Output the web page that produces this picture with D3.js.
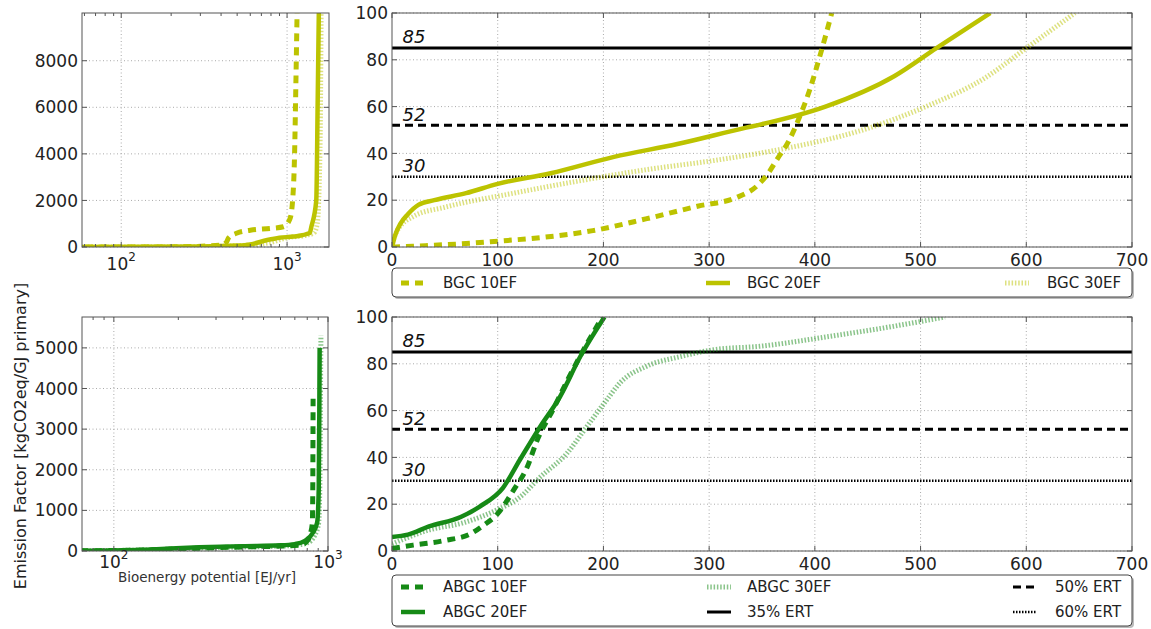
<!DOCTYPE html>
<html>
<head>
<meta charset="utf-8">
<script src="https://cdn.jsdelivr.net/npm/d3@7"></script>
<style>
  body { margin: 0; background: #fff; }
  svg text { font-family: "DejaVu Sans", sans-serif; }
</style>
</head>
<body>
<div id="canvas"></div>
<script>
"use strict"

/* Data */
// zoomed panels (linear), x = bioenergy potential [EJ/yr], y = emission factor
let bgc10X = [0, 20, 40, 60, 100, 140, 190, 240, 290, 325, 345, 355, 365, 375, 385, 395, 405, 416];
let bgc10Y = [0, 0.3, 0.8, 1.2, 2.5, 4, 7, 12, 17.5, 21, 26, 31, 38, 45, 55, 67, 82, 100];
let bgc20X = [0, 3, 8, 15, 25, 40, 70, 100, 150, 210, 270, 335, 350, 410, 475, 515, 566];
let bgc20Y = [0, 5, 10, 14, 18, 20, 23, 27, 31.5, 38.5, 44, 51, 52.5, 60, 73, 85, 100];
let bgc30X = [0, 5, 20, 50, 115, 180, 240, 305, 365, 445, 505, 560, 600, 646];
let bgc30Y = [2, 7, 13, 17, 23, 28.5, 33, 37, 41.5, 50, 60, 72, 85, 100];

let abgc10X = [0, 20, 50, 75, 85, 100, 115, 128, 137, 153, 166, 180, 199];
let abgc10Y = [1, 2.5, 4.5, 7.5, 10.5, 16, 26, 36, 47, 61, 73, 85, 100];
let abgc20X = [0, 15, 35, 65, 83, 105, 121, 140, 159, 178, 201];
let abgc20Y = [6, 7, 10.5, 14.5, 19, 27, 39, 53, 66, 83, 100];
let abgc30X = [0, 35, 67, 99, 121, 140, 166, 184, 203, 216, 241, 272, 304, 348, 411, 474, 523];
let abgc30Y = [3, 9, 12, 17.5, 23, 31.5, 42, 53, 64.5, 72, 79, 83, 86, 87.5, 91.5, 96, 100];

// full curves (log x)
let bgcLog10X = [50, 200, 400, 430, 445, 500, 600, 800, 950, 1040, 1080, 1110, 1130, 1150];
let bgcLog10Y = [0, 5, 80, 200, 400, 600, 720, 800, 870, 1200, 2000, 4000, 7000, 10200];
let bgcLog20X = [50, 300, 500, 600, 760, 900, 1100, 1370, 1400, 1500, 1530, 1555];
let bgcLog20Y = [0, 20, 60, 110, 300, 400, 450, 600, 860, 2000, 6300, 10200];
let bgcLog30X = [50, 300, 500, 650, 800, 1000, 1300, 1450, 1520, 1560, 1590, 1605];
let bgcLog30Y = [0, 15, 60, 100, 200, 400, 500, 600, 1000, 2500, 6000, 10200];

let abgcLog10X = [60, 150, 250, 400, 600, 750, 800, 830, 845, 849, 851, 852];
let abgcLog10Y = [2, 30, 70, 100, 120, 150, 250, 450, 700, 1500, 3000, 3750];
let abgcLog20X = [60, 150, 250, 400, 600, 700, 780, 850, 890, 905, 911, 914];
let abgcLog20Y = [5, 40, 90, 120, 140, 170, 250, 450, 700, 1500, 3500, 5000];
let abgcLog30X = [60, 150, 250, 400, 600, 700, 800, 870, 905, 918, 924, 927];
let abgcLog30Y = [3, 30, 70, 100, 120, 140, 200, 400, 700, 2000, 4500, 5300];

// emission reduction thresholds
let ertLevels = [85, 52, 30];
let ertNames = ["35% ERT", "50% ERT", "60% ERT"];

let linTicksX = [0, 100, 200, 300, 400, 500, 600, 700];
let linTicksY = [0, 20, 40, 60, 80, 100];
let logTicksTop = [0, 2000, 4000, 6000, 8000];
let logTicksBottom = [0, 1000, 2000, 3000, 4000, 5000];

/* Configuration: drawing */
let svgWidth = 1151;
let svgHeight = 629;
let yellow = "#bcc300";
let green = "#168a16";
let frameColor = "#555";

let svg = d3.select("#canvas")
    .append("svg")
    .attr("width", svgWidth)
    .attr("height", svgHeight);

let defs = svg.append("defs");

let styles = {
    "10EF": { dash: "8,6", width: 5, opacity: 1 },
    "20EF": { dash: null, width: 4.5, opacity: 1 },
    "30EF": { dash: "1.5,1.8", width: 5, opacity: 0.5 }
};

let ertStyles = [
    { dash: null, width: 3 },
    { dash: "8,5", width: 3 },
    { dash: "1.5,1.5", width: 2.5 }
];

function zip(xs, ys) {
    return xs.map(function (x, i) { return [x, ys[i]]; });
}

let clipCount = 0;

/* Draw one panel: frame, grid, ticks, labels and the lines inside it */
function panel(opts) {
    let x = opts.x, y = opts.y;
    let x0 = x.range()[0], x1 = x.range()[1];
    let y0 = y.range()[0], y1 = y.range()[1];
    let g = svg.append("g");

    let id = "clip" + (clipCount++);
    defs.append("clipPath").attr("id", id)
        .append("rect")
        .attr("x", x0).attr("y", y1)
        .attr("width", x1 - x0).attr("height", y0 - y1);

    // grid
    g.selectAll(".gx").data(opts.gridX).join("line")
        .attr("x1", d => x(d)).attr("x2", d => x(d))
        .attr("y1", y1).attr("y2", y0)
        .attr("stroke", "#aaa").attr("stroke-width", 1)
        .attr("stroke-dasharray", "1,2.5");
    g.selectAll(".gy").data(opts.ticksY).join("line")
        .attr("x1", x0).attr("x2", x1)
        .attr("y1", d => y(d)).attr("y2", d => y(d))
        .attr("stroke", "#aaa").attr("stroke-width", 1)
        .attr("stroke-dasharray", "1,2.5");

    // series lines
    let lines = g.append("g").attr("clip-path", "url(#" + id + ")");
    let line = d3.line()
        .x(d => x(d[0])).y(d => y(d[1]))
        .curve(d3.curveMonotoneX);

    if (opts.ert) {
        ertLevels.forEach(function (lv, i) {
            lines.append("line")
                .attr("x1", x0).attr("x2", x1)
                .attr("y1", y(lv)).attr("y2", y(lv))
                .attr("stroke", "#000")
                .attr("stroke-width", ertStyles[i].width)
                .attr("stroke-dasharray", ertStyles[i].dash);
            g.append("text")
                .attr("x", x(10)).attr("y", y(lv + 2))
                .attr("font-size", 18).attr("font-style", "italic")
                .attr("fill", "#111")
                .text(lv);
        });
    }

    opts.series.forEach(function (s) {
        let st = styles[s.key];
        lines.append("path")
            .datum(zip(s.xs, s.ys))
            .attr("d", line)
            .attr("fill", "none")
            .attr("stroke", opts.color)
            .attr("stroke-width", st.width)
            .attr("stroke-opacity", st.opacity)
            .attr("stroke-dasharray", st.dash);
    });

    // inward ticks on all four sides
    let majorX = opts.ticksX;
    let tk = g.append("g").attr("stroke", frameColor).attr("stroke-width", 1);
    majorX.forEach(function (t) {
        tk.append("line").attr("x1", x(t)).attr("x2", x(t)).attr("y1", y0).attr("y2", y0 - 5);
        tk.append("line").attr("x1", x(t)).attr("x2", x(t)).attr("y1", y1).attr("y2", y1 + 5);
    });
    (opts.minorX || []).forEach(function (t) {
        tk.append("line").attr("x1", x(t)).attr("x2", x(t)).attr("y1", y0).attr("y2", y0 - 3);
        tk.append("line").attr("x1", x(t)).attr("x2", x(t)).attr("y1", y1).attr("y2", y1 + 3);
    });
    opts.ticksY.forEach(function (t) {
        tk.append("line").attr("x1", x0).attr("x2", x0 + 5).attr("y1", y(t)).attr("y2", y(t));
        tk.append("line").attr("x1", x1).attr("x2", x1 - 5).attr("y1", y(t)).attr("y2", y(t));
    });

    // frame
    g.append("rect")
        .attr("x", x0).attr("y", y1)
        .attr("width", x1 - x0).attr("height", y0 - y1)
        .attr("fill", "none").attr("stroke", frameColor).attr("stroke-width", 1);

    // tick labels
    g.selectAll(".ly").data(opts.ticksY).join("text")
        .attr("x", x0 - 4).attr("y", d => y(d))
        .attr("dy", "0.36em")
        .attr("text-anchor", "end")
        .attr("font-size", 17).attr("fill", "#222")
        .text(d => d);

    if (opts.log) {
        majorX.forEach(function (t) {
            let tx = g.append("text")
                .attr("x", x(t)).attr("y", y0 + opts.logLabelDy)
                .attr("text-anchor", "middle")
                .attr("font-size", 17).attr("fill", "#222");
            tx.append("tspan").text("10");
            tx.append("tspan").attr("dy", -9).attr("font-size", 12)
                .text(Math.round(Math.log10(t)));
        });
    } else {
        g.selectAll(".lx").data(majorX).join("text")
            .attr("x", d => x(d)).attr("y", y0 + 19)
            .attr("text-anchor", "middle")
            .attr("font-size", 17).attr("fill", "#222")
            .text(d => d);
    }
}

function minorLogTicks(domain) {
    let out = [];
    for (let p = 1; p <= 3; p++) {
        for (let m = 2; m <= 9; m++) {
            let v = m * Math.pow(10, p);
            if (v > domain[0] && v < domain[1]) out.push(v);
        }
    }
    return out;
}

/* Top row: BGC */
let tlDomain = [58, 1790];
panel({
    x: d3.scaleLog().domain(tlDomain).range([82, 329]),
    y: d3.scaleLinear().domain([0, 10050]).range([247, 13]),
    log: true, logLabelDy: 23,
    ticksX: [100, 1000], gridX: [100, 1000], minorX: minorLogTicks(tlDomain),
    ticksY: logTicksTop,
    color: yellow,
    series: [
        { key: "10EF", xs: bgcLog10X, ys: bgcLog10Y },
        { key: "30EF", xs: bgcLog30X, ys: bgcLog30Y },
        { key: "20EF", xs: bgcLog20X, ys: bgcLog20Y }
    ]
});

panel({
    x: d3.scaleLinear().domain([0, 700]).range([392, 1132]),
    y: d3.scaleLinear().domain([0, 100]).range([247, 13]),
    ticksX: linTicksX, gridX: linTicksX.slice(1, -1),
    ticksY: linTicksY,
    ert: true,
    color: yellow,
    series: [
        { key: "10EF", xs: bgc10X, ys: bgc10Y },
        { key: "20EF", xs: bgc20X, ys: bgc20Y },
        { key: "30EF", xs: bgc30X, ys: bgc30Y }
    ]
});

/* Bottom row: ABGC */
let blDomain = [71, 1000];
panel({
    x: d3.scaleLog().domain(blDomain).range([82, 328]),
    y: d3.scaleLinear().domain([0, 5760]).range([551, 317]),
    log: true, logLabelDy: 17,
    ticksX: [100, 1000], gridX: [100], minorX: minorLogTicks(blDomain),
    ticksY: logTicksBottom,
    color: green,
    series: [
        { key: "10EF", xs: abgcLog10X, ys: abgcLog10Y },
        { key: "30EF", xs: abgcLog30X, ys: abgcLog30Y },
        { key: "20EF", xs: abgcLog20X, ys: abgcLog20Y }
    ]
});

panel({
    x: d3.scaleLinear().domain([0, 700]).range([392, 1132]),
    y: d3.scaleLinear().domain([0, 100]).range([551, 317]),
    ticksX: linTicksX, gridX: linTicksX.slice(1, -1),
    ticksY: linTicksY,
    ert: true,
    color: green,
    series: [
        { key: "10EF", xs: abgc10X, ys: abgc10Y },
        { key: "20EF", xs: abgc20X, ys: abgc20Y },
        { key: "30EF", xs: abgc30X, ys: abgc30Y }
    ]
});

/* Legends */
function legendBox(x, y, w, h) {
    svg.append("rect")
        .attr("x", x + 2).attr("y", y + 2).attr("width", w).attr("height", h)
        .attr("rx", 4).attr("fill", "#bbb");
    svg.append("rect")
        .attr("x", x).attr("y", y).attr("width", w).attr("height", h)
        .attr("rx", 4).attr("fill", "#fff")
        .attr("stroke", "#444").attr("stroke-width", 1);
}

function legendItem(lx, tx, y, label, color, st) {
    svg.append("line")
        .attr("x1", lx).attr("x2", lx + 24)
        .attr("y1", y).attr("y2", y)
        .attr("stroke", color)
        .attr("stroke-width", st.width)
        .attr("stroke-opacity", st.opacity == null ? 1 : st.opacity)
        .attr("stroke-dasharray", st.dash);
    svg.append("text")
        .attr("x", tx).attr("y", y).attr("dy", "0.36em")
        .attr("font-size", 15).attr("fill", "#222")
        .text(label);
}

legendBox(392, 268, 740, 29);
legendItem(401, 443, 283, "BGC 10EF", yellow, styles["10EF"]);
legendItem(706, 747, 283, "BGC 20EF", yellow, styles["20EF"]);
legendItem(1005, 1047, 283, "BGC 30EF", yellow, styles["30EF"]);

legendBox(392, 575, 740, 51);
legendItem(401, 443, 587, "ABGC 10EF", green, styles["10EF"]);
legendItem(401, 443, 612, "ABGC 20EF", green, styles["20EF"]);
legendItem(707, 747, 587, "ABGC 30EF", green, styles["30EF"]);
legendItem(707, 747, 612, ertNames[0], "#000", ertStyles[0]);
legendItem(1013, 1055, 587, ertNames[1], "#000", ertStyles[1]);
legendItem(1013, 1055, 612, ertNames[2], "#000", ertStyles[2]);

/**** axis labels ****/
svg.append("text")
    .attr("x", 207).attr("y", 582)
    .attr("text-anchor", "middle")
    .attr("font-size", 13.5).attr("fill", "#333")
    .text("Bioenergy potential [EJ/yr]");

svg.append("text")
    .attr("transform", "translate(20,436) rotate(-90)")
    .attr("text-anchor", "middle")
    .attr("dy", "0.36em")
    .attr("font-size", 16).attr("fill", "#222")
    .text("Emission Factor [kgCO2eq/GJ primary]");
</script>
</body>
</html>
